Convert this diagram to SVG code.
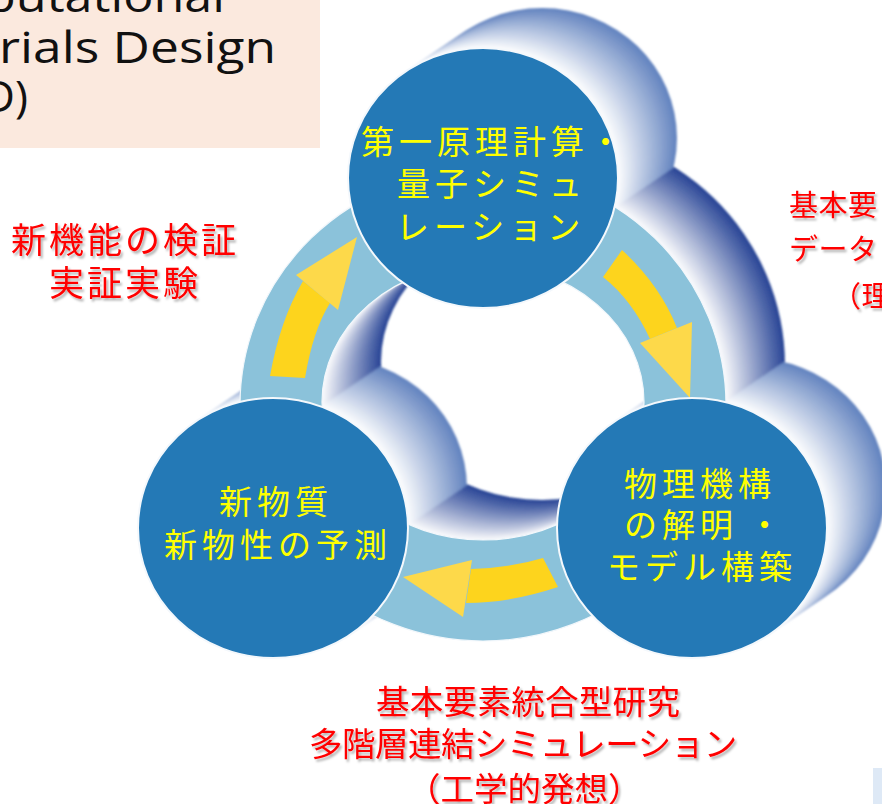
<svg xmlns="http://www.w3.org/2000/svg" xmlns:xlink="http://www.w3.org/1999/xlink" width="882" height="804" viewBox="0 0 882 804">
<style>
.title{font-family:"Open Sans","Noto Sans",sans-serif;font-size:44px;fill:#111}
.yl{font-family:"Noto Sans CJK JP",sans-serif;font-size:33px;fill:#FFFF00;letter-spacing:5px;dominant-baseline:central}
.rd{font-family:"Noto Sans CJK JP",sans-serif;fill:#FF0000;dominant-baseline:central;filter:url(#shadow)}
.face{fill:#2479B6;stroke:#F4F8FC;stroke-width:2}
.body{fill:#FDD41D}
.head{fill:#FDD94A}
</style>
<defs>
<filter id="shadow" x="-10%" y="-20%" width="130%" height="160%">
<feDropShadow dx="2" dy="2.5" stdDeviation="1.3" flood-color="#000" flood-opacity="0.3"/>
</filter>
<filter id="soft" x="-5%" y="-5%" width="110%" height="110%">
<feGaussianBlur stdDeviation="1.2"/>
</filter>
<path id="ringShape" fill-rule="evenodd" d="M240,405 a243,236 0 1,0 486,0 a243,236 0 1,0 -486,0 Z M322,402 a161,138 0 1,0 322,0 a161,138 0 1,0 -322,0 Z"/>
<path id="nodeShapes" d="M348,178 a135,130 0 1,0 270,0 a135,130 0 1,0 -270,0 Z M138,528 a135,130 0 1,0 270,0 a135,130 0 1,0 -270,0 Z M557,528 a135,130 0 1,0 270,0 a135,130 0 1,0 -270,0 Z"/>
</defs>
<rect x="0" y="0" width="882" height="804" fill="#FFFFFF"/>

<g id="title">
<rect x="0" y="0" width="320" height="148" fill="#FBE9DE"/>
<text class="title" x="-15" y="12" textLength="240" lengthAdjust="spacingAndGlyphs">putational</text>
<text class="title" x="-1" y="63" textLength="277" lengthAdjust="spacingAndGlyphs">rials Design</text>
<text class="title" x="28" y="112" text-anchor="end">D)</text>
</g>

<g id="extrusion" filter="url(#soft)">
<g transform="translate(59,-40)"><use href="#ringShape" fill="#2B4797"/><use href="#nodeShapes" fill="#6585C0"/></g>
<g transform="translate(56.54,-38.33)"><use href="#ringShape" fill="#344F9B"/><use href="#nodeShapes" fill="#6B8AC3"/></g>
<g transform="translate(54.08,-36.67)"><use href="#ringShape" fill="#3D56A0"/><use href="#nodeShapes" fill="#728FC5"/></g>
<g transform="translate(51.63,-35)"><use href="#ringShape" fill="#465EA4"/><use href="#nodeShapes" fill="#7894C8"/></g>
<g transform="translate(49.17,-33.33)"><use href="#ringShape" fill="#4E66A8"/><use href="#nodeShapes" fill="#7F99CA"/></g>
<g transform="translate(46.71,-31.67)"><use href="#ringShape" fill="#576DAD"/><use href="#nodeShapes" fill="#859ECD"/></g>
<g transform="translate(44.25,-30)"><use href="#ringShape" fill="#6075B1"/><use href="#nodeShapes" fill="#8CA4D0"/></g>
<g transform="translate(41.79,-28.33)"><use href="#ringShape" fill="#697DB5"/><use href="#nodeShapes" fill="#92A9D2"/></g>
<g transform="translate(39.33,-26.67)"><use href="#ringShape" fill="#7284BA"/><use href="#nodeShapes" fill="#98AED5"/></g>
<g transform="translate(36.88,-25)"><use href="#ringShape" fill="#7A8CBE"/><use href="#nodeShapes" fill="#9FB3D8"/></g>
<g transform="translate(34.42,-23.33)"><use href="#ringShape" fill="#8394C2"/><use href="#nodeShapes" fill="#A5B8DA"/></g>
<g transform="translate(31.96,-21.67)"><use href="#ringShape" fill="#8C9BC7"/><use href="#nodeShapes" fill="#ACBDDD"/></g>
<g transform="translate(29.5,-20)"><use href="#ringShape" fill="#95A3CB"/><use href="#nodeShapes" fill="#B2C2E0"/></g>
<g transform="translate(27.04,-18.33)"><use href="#ringShape" fill="#9EABCF"/><use href="#nodeShapes" fill="#B8C7E2"/></g>
<g transform="translate(24.58,-16.67)"><use href="#ringShape" fill="#A7B2D4"/><use href="#nodeShapes" fill="#BFCCE5"/></g>
<g transform="translate(22.13,-15)"><use href="#ringShape" fill="#B0BAD8"/><use href="#nodeShapes" fill="#C5D1E7"/></g>
<g transform="translate(19.67,-13.33)"><use href="#ringShape" fill="#B8C2DC"/><use href="#nodeShapes" fill="#CCD6EA"/></g>
<g transform="translate(17.21,-11.67)"><use href="#ringShape" fill="#C1C9E1"/><use href="#nodeShapes" fill="#D2DBED"/></g>
<g transform="translate(14.75,-10)"><use href="#ringShape" fill="#CAD1E5"/><use href="#nodeShapes" fill="#D9E1EF"/></g>
<g transform="translate(12.29,-8.33)"><use href="#ringShape" fill="#D3D9E9"/><use href="#nodeShapes" fill="#DFE6F2"/></g>
<g transform="translate(9.83,-6.67)"><use href="#ringShape" fill="#DCE0EE"/><use href="#nodeShapes" fill="#E5EBF5"/></g>
<g transform="translate(7.38,-5)"><use href="#ringShape" fill="#E5E8F2"/><use href="#nodeShapes" fill="#ECF0F7"/></g>
<g transform="translate(4.92,-3.33)"><use href="#ringShape" fill="#EDF0F6"/><use href="#nodeShapes" fill="#F2F5FA"/></g>
<g transform="translate(2.46,-1.67)"><use href="#ringShape" fill="#F6F7FB"/><use href="#nodeShapes" fill="#F9FAFC"/></g>
</g>

<g id="ring-face">
<use href="#ringShape" fill="#8BC2DA" stroke="#F2F7FB" stroke-width="1.2"/>
</g>

<g id="connectors">
<path class="body" d="M603,277 L622,250 Q660,285 677,328 L650,339 Q632,300 603,277 Z"/>
<path class="head" d="M640,343 L692,322 L690,398 Z"/>
<path class="body" d="M543,558 Q510,568 471,569 L466,603 Q510,603 558,587 Z"/>
<path class="head" d="M472,560 L463,617 L403,577 Z"/>
<path class="body" d="M270,376 Q280,320 303,281 L330,303 Q313,330 305,378 Z"/>
<path class="head" d="M296,275 L338,310 L357,237 Z"/>
</g>

<g id="node-top">
<ellipse class="face" cx="483" cy="178" rx="135" ry="130"/>
<text class="yl" x="361" y="140">第一原理計算・</text>
<text class="yl" x="397" y="182">量子シミュ</text>
<text class="yl" x="396" y="225">レーション</text>
</g>

<g id="node-bl">
<ellipse class="face" cx="273" cy="528" rx="135" ry="130"/>
<text class="yl" x="219" y="500">新物質</text>
<text class="yl" x="164" y="543">新物性の予測</text>
</g>

<g id="node-br">
<ellipse class="face" cx="692" cy="528" rx="135" ry="130"/>
<text class="yl" x="624" y="482">物理機構</text>
<text class="yl" x="624" y="523">の解明<tspan dx="10">・</tspan></text>
<text class="yl" x="607" y="565">モデル構築</text>
</g>

<g id="label-left">
<text class="rd" x="11" y="237" font-size="35" letter-spacing="3">新機能の検証</text>
<text class="rd" x="49" y="280" font-size="35" letter-spacing="3">実証実験</text>
</g>

<g id="label-right">
<text class="rd" x="789" y="203" font-size="29" letter-spacing="0.5">基本要</text>
<text class="rd" x="789" y="247" font-size="29" letter-spacing="0.5">データ</text>
<text class="rd" x="832" y="294" font-size="29" letter-spacing="0.5">（理</text>
</g>

<g id="label-bottom">
<text class="rd" x="376" y="699" font-size="33.5" letter-spacing="0.3">基本要素統合型研究</text>
<text class="rd" x="309" y="741" font-size="33.5" letter-spacing="-0.5">多階層連結シミュレーション</text>
<text class="rd" x="407" y="786" font-size="33.5">（工学的発想）</text>
</g>

<rect x="873" y="768" width="9" height="36" fill="#DEE9F6"/>
</svg>
